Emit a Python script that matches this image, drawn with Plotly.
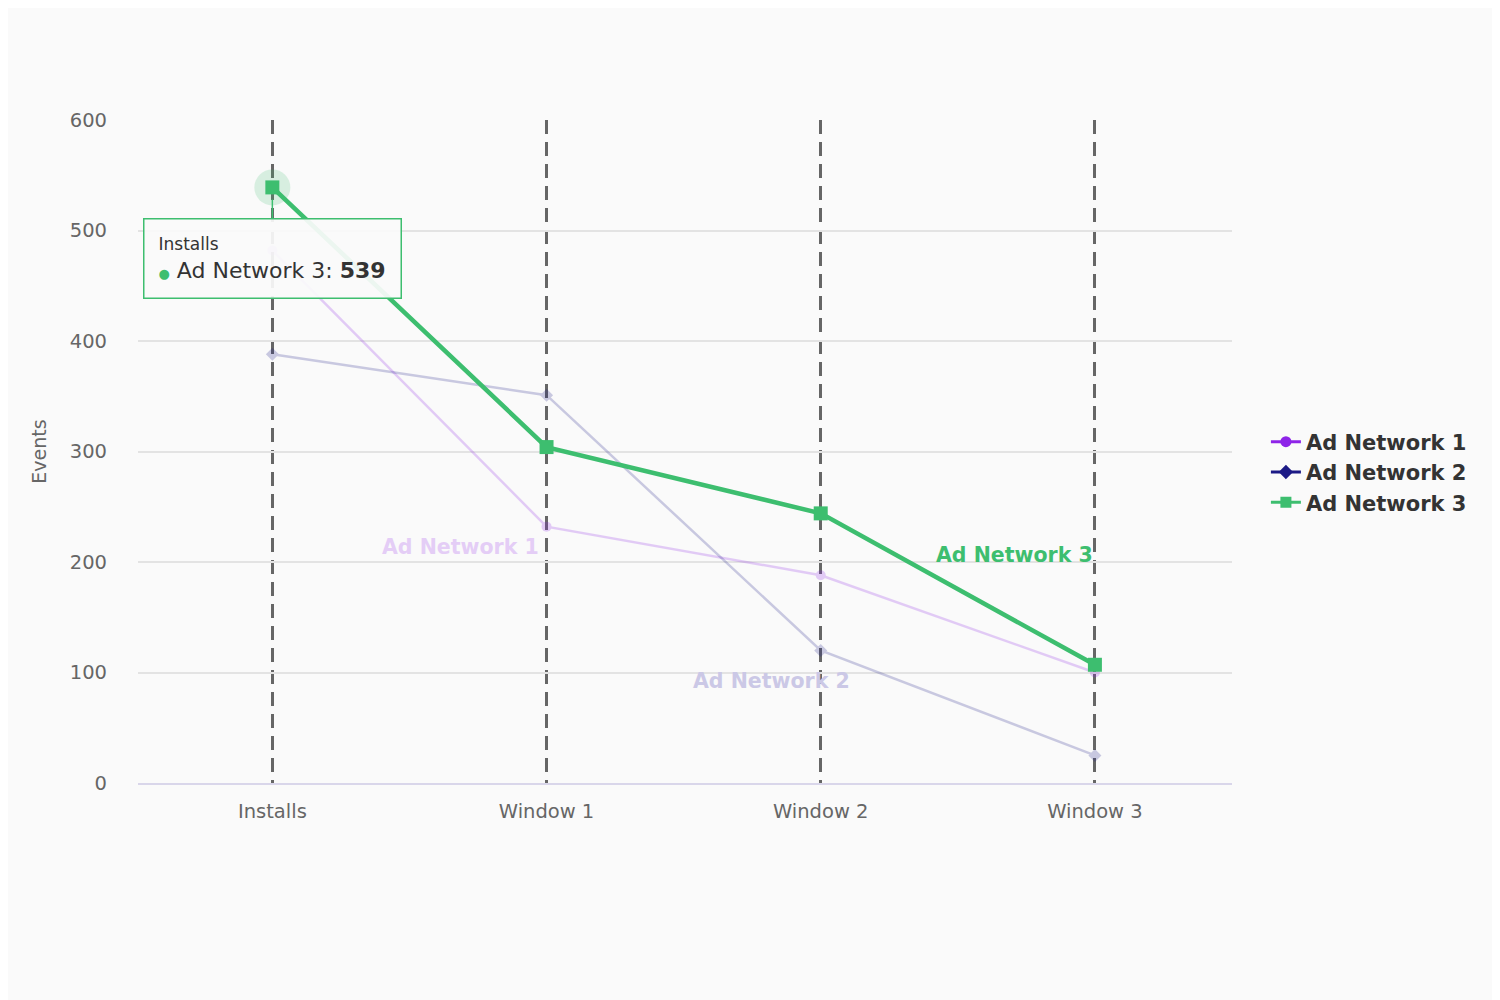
import plotly.graph_objects as go

categories = ["Installs", "Window 1", "Window 2", "Window 3"]
series_names = ["Ad Network 1", "Ad Network 2", "Ad Network 3"]
ad_network_1 = [482, 232, 188, 100]
ad_network_2 = [388, 351, 120, 25]
ad_network_3 = [539, 304, 244, 107]
y_ticks = [0, 100, 200, 300, 400, 500, 600]

FONT = "DejaVu Sans"
C1 = "#8e24e8"
C2 = "#1c1a86"
C3 = "#3dbe6f"

fig = go.Figure()

# faded series (inactive)
fig.add_trace(go.Scatter(
    x=categories, y=ad_network_1, name=series_names[0], mode="lines+markers",
    line=dict(color=C1, width=2.5), marker=dict(symbol="circle", size=10, color=C1),
    opacity=0.22, showlegend=False))
fig.add_trace(go.Scatter(
    x=categories, y=ad_network_2, name=series_names[1], mode="lines+markers",
    line=dict(color=C2, width=2.5), marker=dict(symbol="diamond", size=10, color=C2),
    opacity=0.22, showlegend=False))
# halo on hovered point
fig.add_trace(go.Scatter(
    x=categories[:1], y=ad_network_3[:1], mode="markers",
    marker=dict(symbol="circle", size=36, color=C3), opacity=0.18,
    showlegend=False, hoverinfo="skip"))
fig.add_trace(go.Scatter(
    x=categories, y=ad_network_3, name=series_names[2], mode="lines+markers",
    line=dict(color=C3, width=4.5), marker=dict(symbol="square", size=14, color=C3),
    showlegend=False))

# legend entries at full colour
for name, c, sym in [(series_names[0], C1, "circle"), (series_names[1], C2, "diamond"),
                     (series_names[2], C3, "square")]:
    fig.add_trace(go.Scatter(
        x=[None], y=[None], name=name, mode="lines+markers",
        line=dict(color=c, width=3), marker=dict(symbol=sym, size=11, color=c)))

# series labels
fig.add_annotation(x=0.98, y=ad_network_1[1], xref="x", yref="y", text="<b>Ad Network 1</b>",
                   showarrow=False, xanchor="right", yanchor="middle", yshift=-20,
                   font=dict(family=FONT, size=20.5, color="#e4cdf6"))
fig.add_annotation(x=1.82, y=ad_network_2[2], xref="x", yref="y", text="<b>Ad Network 2</b>",
                   showarrow=False, xanchor="center", yanchor="middle", yshift=-31,
                   font=dict(family=FONT, size=20.5, color="#cbc8e6"))
fig.add_annotation(x=3.0, y=ad_network_3[3], xref="x", yref="y", text="<b>Ad Network 3</b>",
                   showarrow=False, xanchor="right", yanchor="middle", yshift=110,
                   font=dict(family=FONT, size=20.5, color=C3))

# tooltip
fig.add_annotation(
    x=categories[0], y=ad_network_3[0], xref="x", yref="y",
    text=("<span style='font-size:17px'>Installs</span><br>"
          "<span style='color:%s;font-size:13px'>●</span> Ad Network 3: <b>%d</b>"
          % (C3, ad_network_3[0])),
    showarrow=True, ax=0, ay=71, arrowcolor=C3, arrowwidth=1.5, arrowhead=0,
    standoff=12, align="left", bgcolor="rgba(250,250,250,0.93)", bordercolor=C3,
    borderwidth=1.5, borderpad=14, width=228,
    font=dict(family=FONT, size=22, color="#333333"))

fig.update_layout(
    width=1500, height=1000,
    margin=dict(l=130, r=276, t=112, b=225),
    paper_bgcolor="#fafafa", plot_bgcolor="#fafafa",
    font=dict(family=FONT, color="#666666"),
    legend=dict(x=1.031, y=0.469, xanchor="left", yanchor="middle",
                font=dict(family=FONT, size=21, color="#333333", weight="bold"),
                bgcolor="rgba(0,0,0,0)", itemwidth=30, tracegroupgap=0),
    xaxis=dict(type="category", range=[-0.49, 3.5], showgrid=True,
               gridcolor="#666666", griddash="14px,8px", gridwidth=3,
               showline=True, linecolor="#d9d6ea", linewidth=1.5,
               ticks="", ticklabelstandoff=10,
               tickfont=dict(family=FONT, size=19.5, color="#666666"),
               zeroline=False, fixedrange=True),
    yaxis=dict(range=[0, 600], tickvals=y_ticks, showgrid=True, gridcolor="#e3e3e3",
               gridwidth=1.5, zeroline=False, ticks="", ticklabelstandoff=30,
               tickfont=dict(family=FONT, size=19.5, color="#666666"),
               title=dict(text="Events", font=dict(family=FONT, size=19, color="#666666"),
                          standoff=18)),
)

fig.write_html("out.html")
